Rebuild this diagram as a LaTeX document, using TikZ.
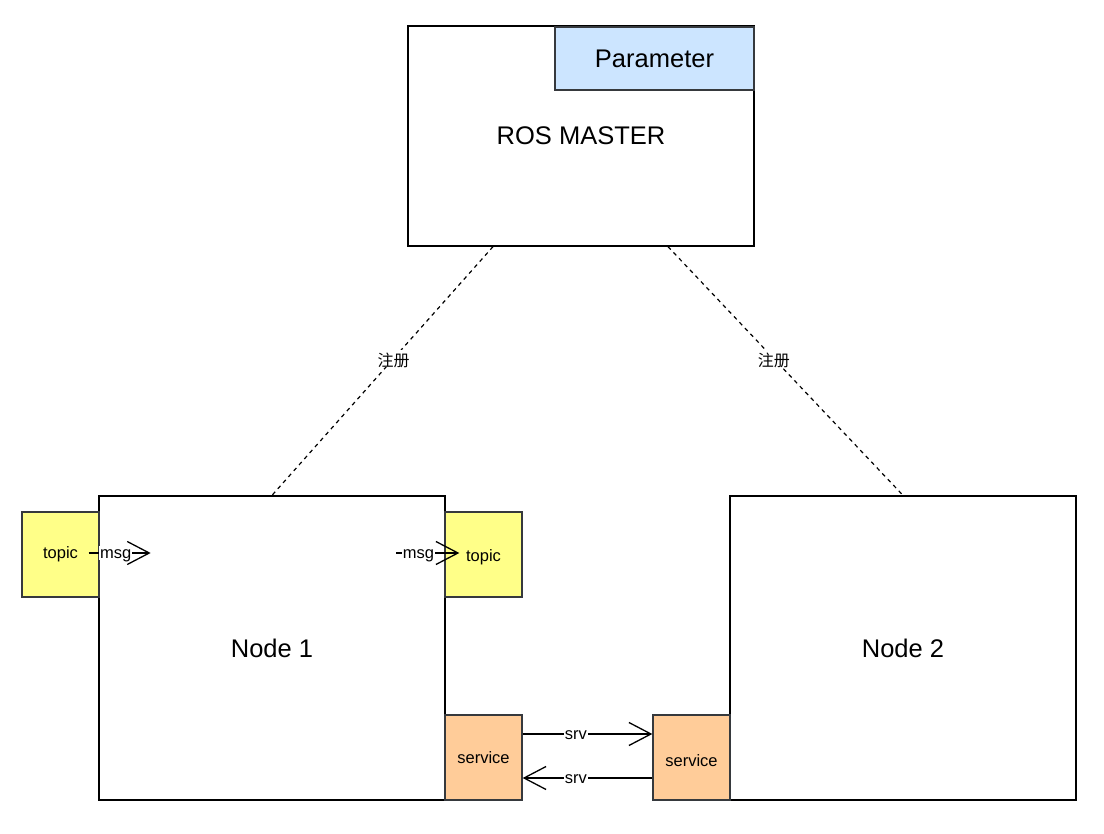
\documentclass[tikz,border=0pt]{standalone}
\usepackage{fontspec}
\setmainfont{Liberation Sans}
\newfontfamily\cjk{Noto Sans CJK SC}
\usetikzlibrary{arrows.meta}
\definecolor{yel}{HTML}{FFFF88}
\definecolor{ora}{HTML}{FFCC99}
\definecolor{blu}{HTML}{CCE5FF}
\definecolor{edge}{HTML}{36393D}
\newcommand{\dropby}[2]{\raisebox{-#1}[\height][\depth]{#2}}
\tikzset{
  bigbox/.style={draw=black, line width=1.3pt, fill=white, inner sep=0pt, font=\fontsize{25.5}{30}\selectfont},
  smallbox/.style={draw=edge, line width=1.3pt, inner sep=0pt, minimum width=77pt, minimum height=85pt, font=\fontsize{16.5}{20}\selectfont},
  arr/.style={line width=1.3pt, -{Straight Barb[length=22pt,width=23pt,line width=1.3pt]}},
  lbl/.style={fill=white, inner sep=1pt, font=\fontsize{16.5}{20}\selectfont},
  reg/.style={dashed, dash pattern=on 4pt off 4pt, line width=1.2pt},
}
\begin{document}
\begin{tikzpicture}[x=1pt,y=-1pt]
\useasboundingbox[fill=white] (0,0) rectangle (1104,834);
\node[bigbox, minimum width=346pt, minimum height=220pt] (master) at (581,136) {ROS MASTER};
\node[smallbox, fill=blu, minimum width=199pt, minimum height=63pt, font=\fontsize{25.5}{30}\selectfont] (param) at (654.5,58.5) {Parameter};
\node[bigbox, minimum width=346pt, minimum height=304pt] (n1) at (272,648) {Node 1};
\node[bigbox, minimum width=346pt, minimum height=304pt] (n2) at (903,648) {Node 2};
\node[smallbox, fill=yel] (tl) at (60.5,554.5) {topic};
\node[smallbox, fill=yel] (tr) at (483.5,554.5) {\dropby{2.5pt}{topic}};
\node[smallbox, fill=ora] (sl) at (483.5,757.5) {service};
\node[smallbox, fill=ora] (sr) at (691.5,757.5) {\dropby{3.5pt}{service}};

\draw[reg] ([xshift=-88pt]master.south) -- node[pos=0.45, lbl, font=\cjk\fontsize{16}{19}\selectfont] {\dropby{2pt}{注册}} (n1.north);
\draw[reg] ([xshift=87pt]master.south) -- node[pos=0.45, lbl, font=\cjk\fontsize{16}{19}\selectfont] {\dropby{2pt}{注册}} (n2.north);

\draw[arr] ([xshift=-11pt,yshift=1.5pt]tl.east) -- node[pos=0.435, lbl] {\dropby{2.5pt}{msg}} ([xshift=51pt,yshift=1.5pt]tl.east);
\draw[arr] ([xshift=-48pt,yshift=1.5pt]tr.west) -- node[pos=0.35, lbl] {\dropby{2.5pt}{msg}} ([xshift=15pt,yshift=1.5pt]tr.west);

\draw[arr] ([yshift=23.5pt]sl.east) -- node[pos=0.41, lbl] {\dropby{1.5pt}{srv}} ([yshift=23.5pt]sr.west);
\draw[arr] ([yshift=-20.5pt]sr.west) -- node[pos=0.59, lbl] {\dropby{1.5pt}{srv}} ([yshift=-20.5pt]sl.east);
\end{tikzpicture}
\end{document}
